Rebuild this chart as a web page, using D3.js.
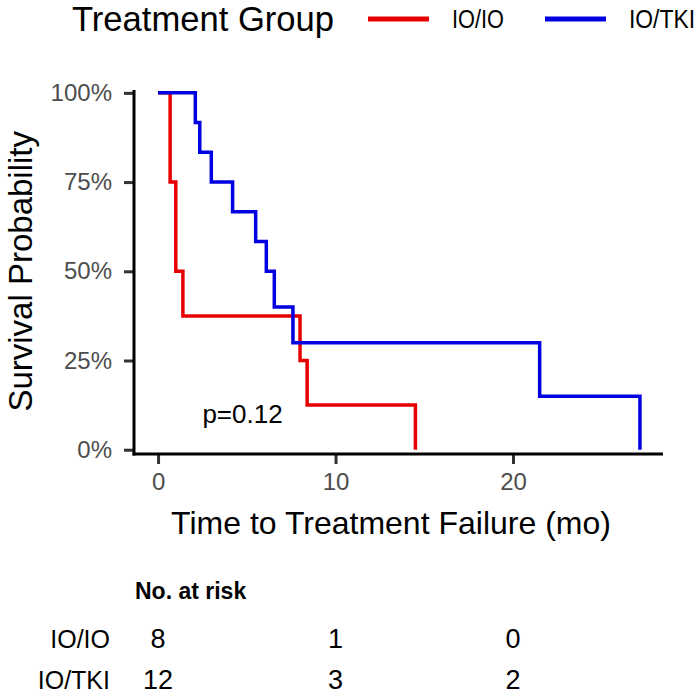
<!DOCTYPE html>
<html>
<head>
<meta charset="utf-8">
<script src="https://cdn.jsdelivr.net/npm/d3@7"></script>
<style>
	body { margin: 0; background: #fff; }
	text { font-family: "Liberation Sans", Arial, sans-serif; }
</style>
</head>
<body>
<svg id="chart"></svg>
<script>
// Kaplan-Meier steps
const groups = ["IO/IO", "IO/TKI"];
const groupColors = ["#e60000", "#0000e0"];

const ioioTimes = [0, 0.68, 1.0, 1.4, 8.0, 8.4, 14.5];
const ioioSurv = [1, 0.75, 0.5, 0.375, 0.25, 0.125, 0];

const iotkiTimes = [0, 2.1, 2.35, 3.0, 4.2, 5.5, 6.1, 6.55, 7.6, 21.5, 27.15];
const iotkiSurv = [1, 0.9167, 0.8333, 0.75, 0.6667, 0.5833, 0.5, 0.4, 0.3, 0.15, 0];

const xTicks = [0, 10, 20];
const yTicks = [0, 0.25, 0.5, 0.75, 1];

// number at risk at each x tick
const riskIoio = [8, 1, 0];
const riskIotki = [12, 3, 2];

const pValue = "p=0.12";

let w = 700, h = 696;

let chart = d3.select('#chart')
	.attr('width', w)
	.attr('height', h);

chart.append('rect').attr('width', w).attr('height', h).attr('fill', '#fff');

// scales (ggplot style 5% expansion on x)
let xScale = d3.scaleLinear()
	.domain([-1.355, 28.45])
	.range([134, 663]);

let yScale = d3.scaleLinear()
	.domain([-0.012, 1.008])
	.range([454, 90]);

// AXES
let xAxis = d3.axisBottom(xScale)
	.tickValues(xTicks)
	.tickSize(10)
	.tickPadding(9)
	.tickFormat(d3.format('d'));

let yAxis = d3.axisLeft(yScale)
	.tickValues(yTicks)
	.tickSize(10)
	.tickPadding(12)
	.tickFormat(d3.format('.0%'));

let xAxisGroup = chart.append('g')
	.attr('transform', `translate(0, ${yScale.range()[0]})`)
	.call(xAxis);

let yAxisGroup = chart.append('g')
	.attr('transform', `translate(${xScale.range()[0]}, 0)`)
	.call(yAxis);

[xAxisGroup, yAxisGroup].forEach(g => {
	g.select('.domain').remove();
	g.selectAll('.tick line').attr('stroke', '#333').attr('stroke-width', 3);
	g.selectAll('.tick text')
		.attr('fill', '#4d4d4d')
		.style('font-size', '24px');
});

// axis lines
chart.append('line')
	.attr('x1', xScale.range()[0]).attr('x2', xScale.range()[0])
	.attr('y1', yScale.range()[1]).attr('y2', yScale.range()[0] + 1.5)
	.attr('stroke', '#000').attr('stroke-width', 3);

chart.append('line')
	.attr('x1', xScale.range()[0] - 1.5).attr('x2', xScale.range()[1])
	.attr('y1', yScale.range()[0]).attr('y2', yScale.range()[0])
	.attr('stroke', '#000').attr('stroke-width', 3);

// curves
let line = d3.line()
	.x(d => xScale(d[0]))
	.y(d => yScale(d[1]))
	.curve(d3.curveStepAfter);

let series = [
	d3.zip(ioioTimes, ioioSurv),
	d3.zip(iotkiTimes, iotkiSurv)
];

chart.selectAll('.km')
	.data(series)
	.enter()
	.append('path')
	.attr('class', 'km')
	.attr('d', line)
	.attr('fill', 'none')
	.attr('stroke', (d, i) => groupColors[i])
	.attr('stroke-width', 3.5);

// p value
chart.append('text')
	.attr('x', xScale(2.5))
	.attr('y', 423)
	.style('font-size', '26px')
	.text(pValue);

// LABELS
chart.append('text')
	.attr('transform', `translate(32, ${yScale(0.5)}) rotate(-90)`)
	.style('text-anchor', 'middle')
	.style('font-size', '33px')
	.text('Survival Probability');

chart.append('text')
	.attr('x', 391)
	.attr('y', 534)
	.style('text-anchor', 'middle')
	.style('font-size', '32px')
	.text('Time to Treatment Failure (mo)');

// legend
chart.append('text')
	.attr('x', 72)
	.attr('y', 31)
	.attr('textLength', 262)
	.attr('lengthAdjust', 'spacingAndGlyphs')
	.style('font-size', '35px')
	.text('Treatment Group');

let legendX = [368, 545];
let legendTextLen = [52, 66];
groups.forEach((g, i) => {
	chart.append('line')
		.attr('x1', legendX[i]).attr('x2', legendX[i] + 61)
		.attr('y1', 19).attr('y2', 19)
		.attr('stroke', groupColors[i])
		.attr('stroke-width', 5);
	chart.append('text')
		.attr('x', legendX[i] + 84)
		.attr('y', 28)
		.attr('textLength', legendTextLen[i])
		.attr('lengthAdjust', 'spacingAndGlyphs')
		.style('font-size', '25px')
		.text(g);
});

// risk table
chart.append('text')
	.attr('x', 135)
	.attr('y', 599)
	.style('font-size', '23px')
	.style('font-weight', 'bold')
	.text('No. at risk');

let riskRows = [riskIoio, riskIotki];
let rowY = [648, 689];
riskRows.forEach((row, i) => {
	chart.append('text')
		.attr('x', 110)
		.attr('y', rowY[i])
		.style('text-anchor', 'end')
		.style('font-size', '25px')
		.text(groups[i]);
	chart.selectAll('.risk' + i)
		.data(row)
		.enter()
		.append('text')
		.attr('x', (d, j) => xScale(xTicks[j]))
		.attr('y', rowY[i])
		.style('text-anchor', 'middle')
		.style('font-size', '27px')
		.text(d => d);
});
</script>
</body>
</html>
